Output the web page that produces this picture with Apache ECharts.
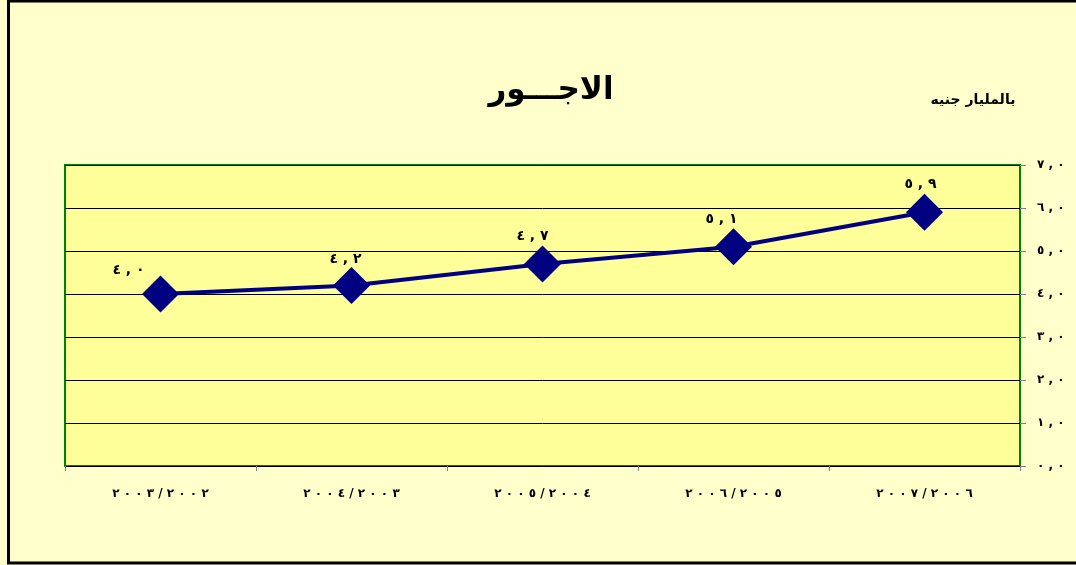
<!DOCTYPE html>
<html>
<head>
<meta charset="utf-8">
<script src="https://cdn.jsdelivr.net/npm/echarts@6/dist/echarts.min.js"></script>
<style>
  html, body { margin: 0; padding: 0; background: #FFFFCC; }
  #chart { width: 1076px; height: 565px; }
</style>
</head>
<body>
<div id="chart"></div>
<script>
// data
var categories = ['٢٠٠٣/٢٠٠٢', '٢٠٠٤/٢٠٠٣', '٢٠٠٥/٢٠٠٤', '٢٠٠٦/٢٠٠٥', '٢٠٠٧/٢٠٠٦'];
var wages = [4.0, 4.2, 4.7, 5.1, 5.9];
var titleText = 'الاجـــور';
var unitText = 'بالمليار جنيه';

// label nudges (first label sits further left)
var labelOffsets = [[-32, 4], [-6, 1], [-10, 0], [-12, 0], [-4, 0]];

var LRM = '\u200E';
var arabicDigits = '٠١٢٣٤٥٦٧٨٩';
function toArabic(v) {
  var s = v.toFixed(1).replace(/[0-9]/g, function (d) { return arabicDigits[+d]; });
  // LRM keeps the spaced digits in left-to-right order
  return s.replace('.', LRM + ' ' + LRM + ',' + LRM + ' ' + LRM);
}
// excel spreads the digits out, fake it with spaces
function spread(s) {
  return s.split('').join(LRM + ' ' + LRM);
}

var font = 'DejaVu Sans';
var chart = echarts.init(document.getElementById('chart'));

chart.setOption({
  backgroundColor: '#FFFFCC',
  animation: false,
  textStyle: { fontFamily: font },
  title: [
    {
      text: titleText, left: 546, top: 70, textAlign: 'center',
      textStyle: { fontSize: 31, fontWeight: 'bold', color: '#000', fontFamily: font }
    },
    {
      text: unitText, left: 968, top: 88, textAlign: 'center',
      textStyle: { fontSize: 14, fontWeight: 'bold', color: '#000', fontFamily: font }
    }
  ],
  graphic: [{
    type: 'rect', silent: true,
    shape: { x: 8.5, y: 1, width: 1080, height: 562 },
    style: { fill: 'none', stroke: '#000', lineWidth: 3 }
  }],
  grid: {
    left: 65, right: 56, top: 165, bottom: 99,
    show: true, backgroundColor: '#FFFF99', borderColor: '#008000', borderWidth: 2
  },
  xAxis: {
    type: 'category', data: categories, boundaryGap: true,
    axisLine: { show: false },
    axisTick: { show: true, length: 5, lineStyle: { color: '#808080' } },
    axisLabel: {
      margin: 22, fontSize: 12, fontWeight: 'bold', color: '#000', fontFamily: font,
      formatter: function (v) { return spread(v); }
    }
  },
  yAxis: {
    type: 'value', position: 'right', min: 0, max: 7, interval: 1,
    axisLine: { show: false },
    axisTick: { show: true, length: 6, lineStyle: { color: '#808080' } },
    splitLine: { show: true, lineStyle: { color: '#000', width: 1 } },
    axisLabel: {
      margin: 17, fontSize: 12, fontWeight: 'bold', color: '#000', fontFamily: font,
      formatter: function (v) { return toArabic(v); }
    }
  },
  series: [{
    type: 'line',
    data: wages.map(function (v, i) {
      return { value: v, label: { offset: labelOffsets[i] } };
    }),
    symbol: 'diamond', symbolSize: 37,
    lineStyle: { color: '#000080', width: 4 },
    itemStyle: { color: '#000080' },
    label: {
      show: true, position: 'top', distance: 2,
      fontSize: 14, fontWeight: 'bold', color: '#000', fontFamily: font,
      formatter: function (p) { return toArabic(p.value); }
    }
  }]
});
</script>
</body>
</html>
